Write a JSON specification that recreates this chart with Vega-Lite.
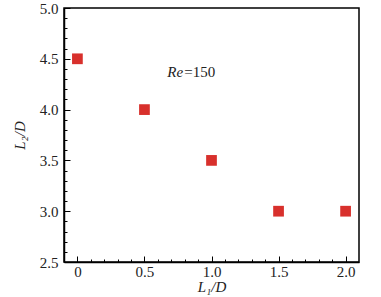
{
  "$schema": "https://vega.github.io/schema/vega-lite/v6.json",
  "autosize": "none",
  "width": 295,
  "height": 254,
  "padding": {"left": 64, "top": 8, "right": 22, "bottom": 35},
  "background": "white",
  "config": {
    "view": {"stroke": "black", "strokeWidth": 1.5},
    "font": "Liberation Serif",
    "axis": {
      "grid": false,
      "domainColor": "black",
      "domainWidth": 1.5,
      "tickColor": "black",
      "tickWidth": 1,
      "labelFont": "Liberation Serif",
      "labelFontSize": 15,
      "labelColor": "#222",
      "titleFont": "Liberation Serif",
      "titleFontSize": 15,
      "titleFontStyle": "italic",
      "titleFontWeight": "normal",
      "titleColor": "#222"
    }
  },
  "datasets": {
    "pts": [
      {"L1": 0.0, "L2": 4.5},
      {"L1": 0.5, "L2": 4.0},
      {"L1": 1.0, "L2": 3.5},
      {"L1": 1.5, "L2": 3.0},
      {"L1": 2.0, "L2": 3.0}
    ],
    "lab": [{"x": 0.67, "y": 4.37, "t": "Re"}]
  },
  "layer": [
    {
      "data": {"name": "pts"},
      "mark": {"type": "point", "shape": "square", "filled": true, "size": 115, "color": "#d8302c", "opacity": 1},
      "encoding": {
        "x": {
          "field": "L1", "type": "quantitative",
          "scale": {"domain": [-0.1, 2.1], "nice": false, "zero": false},
          "axis": {"values": [0, 0.5, 1.0, 1.5, 2.0], "labelExpr": "datum.value == 0 ? '0' : format(datum.value, '.1f')", "tickSize": -6, "labelPadding": 8, "title": "L₁/D", "titlePadding": 0}
        },
        "y": {
          "field": "L2", "type": "quantitative",
          "scale": {"domain": [2.5, 5.0], "nice": false, "zero": false},
          "axis": {"values": [2.5, 3.0, 3.5, 4.0, 4.5, 5.0], "format": ".1f", "tickSize": -6, "labelPadding": 12, "title": "L₂/D", "titlePadding": 12}
        }
      }
    },
    {
      "data": {"name": "pts"},
      "mark": {"type": "point", "opacity": 0},
      "encoding": {
        "x": {
          "field": "L1", "type": "quantitative",
          "axis": {"orient": "bottom", "values": [0.1, 0.2, 0.3, 0.4, 0.6, 0.7, 0.8, 0.9, 1.1, 1.2, 1.3, 1.4, 1.6, 1.7, 1.8, 1.9], "labels": false, "domain": false, "tickSize": -3, "title": null}
        },
        "y": {
          "field": "L2", "type": "quantitative",
          "axis": {"orient": "left", "values": [2.6, 2.7, 2.8, 2.9, 3.1, 3.2, 3.3, 3.4, 3.6, 3.7, 3.8, 3.9, 4.1, 4.2, 4.3, 4.4, 4.6, 4.7, 4.8, 4.9], "labels": false, "domain": false, "tickSize": -3, "title": null}
        }
      }
    },
    {
      "data": {"name": "lab"},
      "mark": {"type": "text", "font": "Liberation Serif", "fontSize": 15, "fontStyle": "italic", "align": "left", "baseline": "middle", "color": "#222"},
      "encoding": {
        "x": {"field": "x", "type": "quantitative", "axis": null},
        "y": {"field": "y", "type": "quantitative", "axis": null},
        "text": {"field": "t"}
      }
    },
    {
      "data": {"name": "lab"},
      "mark": {"type": "text", "font": "Liberation Serif", "fontSize": 15, "align": "left", "baseline": "middle", "dx": 17, "color": "#222"},
      "encoding": {
        "x": {"field": "x", "type": "quantitative", "axis": null},
        "y": {"field": "y", "type": "quantitative", "axis": null},
        "text": {"value": "=150"}
      }
    }
  ],
  "resolve": {"axis": {"x": "independent", "y": "independent"}}
}
